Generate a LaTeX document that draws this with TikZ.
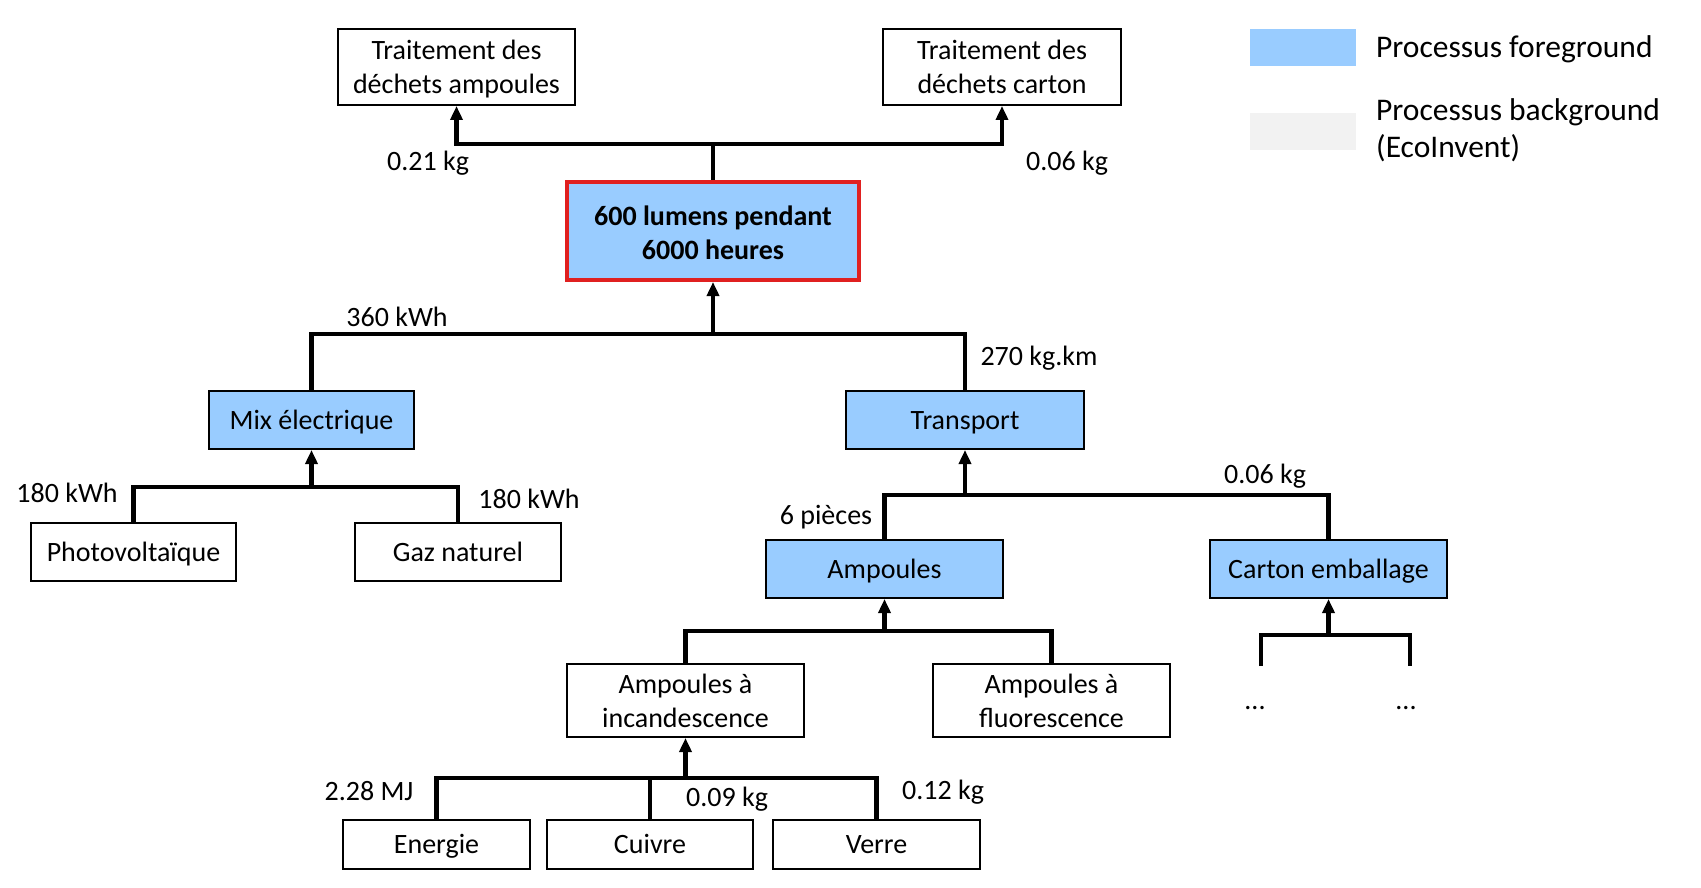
\documentclass[tikz,border=0pt]{standalone}
\usepackage{fontspec}
\setmainfont{Carlito}
\usetikzlibrary{arrows.meta}
\definecolor{fg}{HTML}{99CCFF}
\definecolor{bg}{HTML}{F2F2F2}
\definecolor{redb}{HTML}{E02020}
\begin{document}
\begin{tikzpicture}[x=1pt,y=-1pt,
  every node/.style={font=\fontsize{28}{34}\selectfont},
  box/.style={draw=black,line width=2pt,inner sep=0pt,align=center},
  one/.style={text height=22pt,text depth=4pt},
  fgbox/.style={box,fill=fg},
  conn/.style={line width=4.5pt,line join=miter},
  arr/.style={conn,-{Triangle[width=12pt,length=14pt]}},
  lbl/.style={inner sep=0pt}]
\useasboundingbox (0,0) rectangle (1701,888);
% nodes
\node[box,minimum width=237pt,minimum height=76pt] (dechA) at (456.5,67) {\rule{0pt}{24pt}Traitement des\\déchets ampoules};
\node[box,minimum width=238pt,minimum height=76pt] (dechC) at (1002,67) {\rule{0pt}{24pt}Traitement des\\déchets carton\vphantom{p}};
\node[fgbox,draw=redb,line width=4pt,minimum width=292pt,minimum height=98pt] (main) at (713,231) {\rule{0pt}{24pt}\textbf{600 lumens pendant}\\\textbf{6000 heures}};
\node[fgbox,one,minimum width=205pt,minimum height=58pt] (mix) at (311.5,420) {Mix électrique};
\node[fgbox,one,minimum width=238pt,minimum height=58pt] (trans) at (965,420) {Transport};
\node[box,one,minimum width=205pt,minimum height=58pt] (pv) at (133.5,552) {Photovoltaïque};
\node[box,one,minimum width=206pt,minimum height=58pt] (gaz) at (458,552) {Gaz naturel};
\node[fgbox,one,minimum width=237pt,minimum height=58pt] (amp) at (884.5,569) {Ampoules};
\node[fgbox,one,minimum width=237pt,minimum height=58pt] (carton) at (1328.5,569) {Carton emballage};
\node[box,minimum width=237pt,minimum height=73pt] (inc) at (685.5,700.5) {Ampoules à\\incandescence};
\node[box,minimum width=237pt,minimum height=73pt] (fluo) at (1051.5,700.5) {Ampoules à\\fluorescence};
\node[box,one,minimum width=187pt,minimum height=49pt] (ener) at (436.5,844.5) {Energie};
\node[box,one,minimum width=206pt,minimum height=49pt] (cuiv) at (650,844.5) {Cuivre};
\node[box,one,minimum width=207pt,minimum height=49pt] (verre) at (876.5,844.5) {Verre};
\node[lbl] (dots1) at (1255,708.5) {...};
\node[lbl] (dots2) at (1406,708.5) {...};
% junctions
\coordinate (j1) at (713,144);
\coordinate (j2) at (713,334);
\coordinate (j3) at (311.5,487);
\coordinate (j4) at (965,495);
\coordinate (j5) at (884.5,631);
\coordinate (j6) at (1328.5,635);
\coordinate (j7) at (685.5,778);
\coordinate (e1) at (1261,666);
\coordinate (e2) at (1410,666);
% connectors
\draw[conn] (main.north) -- (j1);
\draw[arr] (j1) -| (dechA.south);
\draw[arr] (j1) -| (dechC.south);
\draw[conn] (mix.north) |- (j2) -| (trans.north);
\draw[arr] (j2) -- (main.south);
\draw[conn] (pv.north) |- (j3) -| (gaz.north);
\draw[arr] (j3) -- (mix.south);
\draw[conn] (amp.north) |- (j4) -| (carton.north);
\draw[arr] (j4) -- (trans.south);
\draw[conn] (inc.north) |- (j5) -| (fluo.north);
\draw[arr] (j5) -- (amp.south);
\draw[conn] (e1) |- (j6) -| (e2);
\draw[arr] (j6) -- (carton.south);
\draw[conn] (ener.north) |- (j7) -| (verre.north);
\draw[conn] (cuiv.north) -- (cuiv.north |- j7);
\draw[arr] (j7) -- (inc.south);
% labels
\node[lbl] at (428,163.5) {0.21 kg};
\node[lbl] at (1067,163.5) {0.06 kg};
\node[lbl] at (397,316.5) {360 kWh};
\node[lbl] at (1039,358.5) {270 kg.km};
\node[lbl] at (67,492.5) {180 kWh};
\node[lbl] at (529,498.5) {180 kWh};
\node[lbl] at (1265,476.5) {0.06 kg};
\node[lbl] at (826,517.5) {6 pièces};
\node[lbl] at (369,791.5) {2.28 MJ};
\node[lbl] at (727,799.5) {0.09 kg};
\node[lbl] at (943,792.5) {0.12 kg};
% legend
\fill[fg] (1250,29) rectangle (1356,66);
\fill[bg] (1250,113) rectangle (1356,150);
\node[lbl,anchor=west,font=\fontsize{31.5}{37}\selectfont] (lfg) at (1376,49) {Processus foreground};
\node[lbl,anchor=north west,align=left,font=\fontsize{31.5}{37}\selectfont] (lbg) at (1376,98.5) {Processus background\\(EcoInvent)};
\end{tikzpicture}
\end{document}
